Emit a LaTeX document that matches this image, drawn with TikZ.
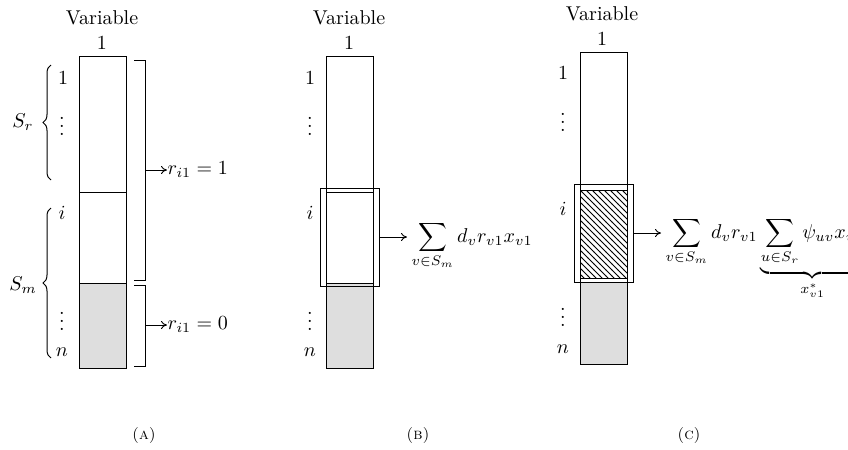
\documentclass[tikz,border=0pt]{standalone}
\usetikzlibrary{decorations.pathreplacing,patterns,arrows.meta}
\begin{document}
\begin{tikzpicture}[x=0.5pt,y=-0.5pt,line width=0.5pt,
  lbl/.style={inner sep=0pt},
  shade/.style={fill=black!13},
  brc/.style={decorate,decoration={brace,amplitude=4pt}},
  arr/.style={-{To[length=3pt,width=4pt]},line width=0.45pt},
  captxt/.style={inner sep=0pt,font=\footnotesize\scshape}]
\useasboundingbox (0,0) rectangle (848,450);
\clip (0,0) rectangle (848,450);

% ---------- Panel A ----------
\fill[shade] (79,283) rectangle (126,368);
\draw (79,56) rectangle (126,368);
\draw (79,192) -- (126,192);
\draw (79,283) -- (126,283);
\node[lbl] (avar) at (102,18) {Variable};
\node[lbl] (aone) at (102,43) {1};
\node[lbl] (ar1) at (63,78) {1};
\node[lbl] (ar2) at (62,120) {$\vdots$};
\node[lbl] (ar3) at (62,213) {$i$};
\node[lbl] (ar4) at (62,315) {$\vdots$};
\node[lbl] (ar5) at (62,352) {$n$};
\draw[brc] (51,180) -- (51,65);
\node[lbl] (asr) at (23,122) {$S_r$};
\draw[brc] (51,358) -- (51,208);
\node[lbl] (asm) at (23,285) {$S_m$};
\draw (134,60) -- (145,60) -- (145,280) -- (134,280);
\coordinate (ab1) at (145,170);
\node[lbl,anchor=west] (aeq1) at (167,170) {$r_{i1}=1$};
\draw[arr] (ab1) -- (aeq1.west);
\draw (134,285) -- (145,285) -- (145,366) -- (134,366);
\coordinate (ab2) at (145,325);
\node[lbl,anchor=west] (aeq0) at (167,325) {$r_{i1}=0$};
\draw[arr] (ab2) -- (aeq0.west);
\node[captxt] (capa) at (144,435) {(a)};

% ---------- Panel B ----------
\fill[shade] (326,283) rectangle (373,368);
\draw (326,56) rectangle (373,368);
\draw (326,192) -- (373,192);
\draw (326,283) -- (373,283);
\draw (320,188) rectangle (379,286);
\node[lbl] (bvar) at (349,18) {Variable};
\node[lbl] (bone) at (349,43) {1};
\node[lbl] (br1) at (310,78) {1};
\node[lbl] (br2) at (310,120) {$\vdots$};
\node[lbl] (br3) at (310,213) {$i$};
\node[lbl] (br4) at (310,315) {$\vdots$};
\node[lbl] (br5) at (310,352) {$n$};
\coordinate (bb) at (379,237);
\node[lbl,anchor=base west] (bf) at (411,242) {$\displaystyle\sum_{v\in S_m} d_v r_{v1} x_{v1}$};
\draw[arr] (bb) -- (407,237);
\node[captxt] (capb) at (418,435) {(b)};

% ---------- Panel C ----------
\fill[shade] (580,282) rectangle (627,364);
\fill[pattern=north west lines] (580,190) rectangle (627,278);
\draw (580,52) rectangle (627,364);
\draw (580,190) rectangle (627,278);
\draw (574,184) rectangle (633,282);
\node[lbl] (cvar) at (602,14) {Variable};
\node[lbl] (cone) at (602,39) {1};
\node[lbl] (cr1) at (563,73) {1};
\node[lbl] (cr2) at (563,116) {$\vdots$};
\node[lbl] (cr3) at (563,209) {$i$};
\node[lbl] (cr4) at (563,311) {$\vdots$};
\node[lbl] (cr5) at (563,349) {$n$};
\coordinate (cb) at (633,233);
\node[lbl,anchor=base west] (cf) at (665,238) {$\displaystyle\sum_{v\in S_m} d_v r_{v1}\underbrace{\sum_{u\in S_r}\psi_{uv}x_{u1}}_{x^*_{v1}}$};
\draw[arr] (cb) -- (661,233);
\node[captxt] (capc) at (689,435) {(c)};
\end{tikzpicture}
\end{document}
